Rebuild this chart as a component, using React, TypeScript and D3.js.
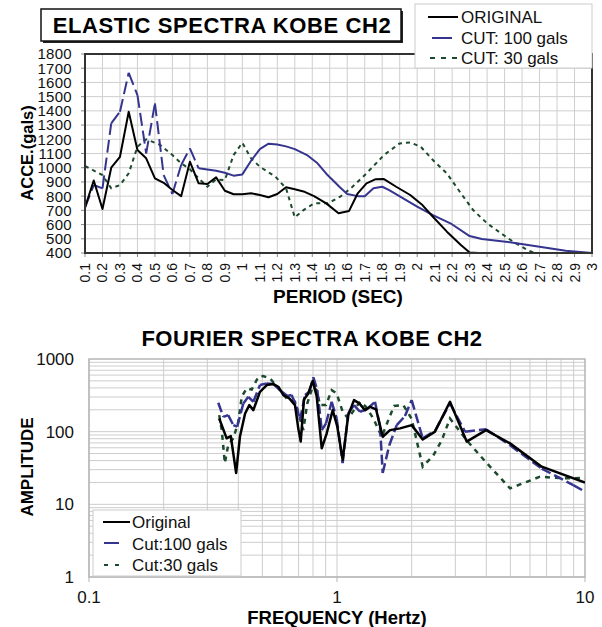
import React from "react";
import * as d3 from "d3";

// ---------- TOP CHART DATA (Elastic spectra) ----------
const periodOrig = [0.1,0.15,0.2,0.25,0.3,0.35,0.4,0.45,0.5,0.55,0.6,0.65,0.7,0.75,0.8,0.85,0.9,0.95,1.0,1.05,1.1,1.15,1.2,1.25,1.3,1.35,1.41,1.48,1.55,1.61,1.66,1.71,1.76,1.81,1.88,1.96,2.03,2.09,2.17,2.25,2.3,2.35];
const accOrig = [720,910,710,1000,1077,1394,1124,1066,925,894,843,800,1042,890,885,932,838,813,813,820,808,792,815,862,848,833,800,749,679,695,820,890,918,920,866,808,737,655,550,456,404,400];

const period100 = [0.1,0.15,0.2,0.25,0.3,0.35,0.4,0.45,0.5,0.55,0.6,0.65,0.7,0.75,0.8,0.85,0.9,0.95,1.0,1.05,1.1,1.15,1.2,1.25,1.3,1.37,1.43,1.48,1.555,1.6,1.66,1.7,1.75,1.8,1.84,1.92,2.0,2.09,2.19,2.3,2.37,2.54,2.7,2.85,3.0];
const acc100 = [720,878,855,1312,1394,1668,1511,1101,1453,948,815,1019,1136,996,988,979,965,944,953,1049,1131,1169,1164,1150,1131,1089,1031,958,866,815,800,800,855,866,843,784,726,667,609,519,498,474,444,416,400];
const dashedUntil100 = 0.75; // the CUT:100 curve is drawn with long dashes up to this period

const period30 = [0.1,0.2,0.25,0.3,0.35,0.4,0.45,0.53,0.6,0.65,0.7,0.75,0.8,0.85,0.9,0.95,1.0,1.05,1.1,1.19,1.25,1.3,1.35,1.41,1.49,1.56,1.63,1.71,1.81,1.9,1.96,2.02,2.09,2.17,2.25,2.32,2.4,2.48,2.55,2.63,2.67];
const acc30 = [1012,948,855,878,960,1148,1200,1160,1089,1031,989,925,866,918,913,1089,1176,1066,1007,936,855,650,702,749,750,796,866,960,1089,1171,1178,1148,1054,960,820,702,609,538,479,421,400];

const topYTicks = [400,500,600,700,800,900,1000,1100,1200,1300,1400,1500,1600,1700,1800];
const topXTicks = [0.1,0.2,0.3,0.4,0.5,0.6,0.7,0.8,0.9,1,1.1,1.2,1.3,1.4,1.5,1.6,1.7,1.8,1.9,2,2.1,2.2,2.3,2.4,2.5,2.6,2.7,2.8,2.9,3];
const topLegend = ["ORIGINAL", "CUT: 100 gals", "CUT: 30 gals"];

// ---------- BOTTOM CHART DATA (Fourier spectra) ----------
const freqOrig = [0.335,0.359,0.373,0.392,0.406,0.426,0.443,0.46,0.489,0.521,0.554,0.58,0.608,0.642,0.677,0.698,0.714,0.736,0.766,0.798,0.828,0.868,0.909,0.961,1.003,1.054,1.11,1.171,1.23,1.297,1.359,1.437,1.529,1.636,1.795,2.0,2.216,2.484,2.855,3.334,3.99,4.985,6.69,10];
const ampOrig = [152,81,87,27,85,178,232,198,354,438,452,415,319,287,232,111,73,278,336,501,309,59,95,198,117,41,169,272,245,198,220,203,85,105,111,123,78,100,258,73,105,69,33,20];

const freq100 = [0.332,0.348,0.364,0.382,0.396,0.419,0.439,0.46,0.489,0.521,0.554,0.589,0.631,0.656,0.688,0.709,0.743,0.773,0.803,0.833,0.868,0.903,0.952,0.997,1.054,1.11,1.171,1.238,1.318,1.423,1.491,1.529,1.625,1.741,1.88,2.0,2.216,2.484,2.855,3.282,3.99,4.985,6.69,8.97,10];
const amp100 = [250,160,169,123,117,245,302,258,438,462,452,373,309,319,220,144,319,354,558,373,105,130,258,152,37,178,232,188,203,258,117,27,65,123,164,272,81,103,245,100,108,65,31,18.4,14.9];

const freq30 = [0.335,0.343,0.353,0.364,0.382,0.4,0.413,0.432,0.453,0.482,0.504,0.537,0.58,0.627,0.677,0.709,0.731,0.759,0.798,0.828,0.854,0.903,0.952,0.997,1.054,1.11,1.171,1.238,1.309,1.401,1.515,1.61,1.698,1.851,2.0,2.216,2.445,2.644,2.855,3.334,4.015,4.985,6.58,8.18,10];
const amp30 = [169,105,37,65,81,137,302,395,380,569,581,541,395,287,258,152,105,245,415,373,232,232,373,336,188,152,198,258,220,152,85,144,226,232,150,33,47,76,152,76,37,16.6,24,22.8,23];

const botYTicks = [1, 10, 100, 1000];
const botXTicks = [0.1, 1, 10];
const botLegend = ["Original", "Cut:100 gals", "Cut:30 gals"];

const C_BLACK = "#000000";
const C_BLUE = "#35358f";
const C_GREEN = "#1c4a2c";
const FONT = "'Liberation Sans', Arial, Helvetica, sans-serif";

function zip(xs: number[], ys: number[]) {
  return xs.map((x, i) => [x, ys[i]] as [number, number]);
}

function Segments({ pts, sx, sy, color, width, dash }: any) {
  const segs = [];
  for (let i = 0; i < pts.length - 1; i++) {
    segs.push(
      <line key={i} x1={sx(pts[i][0])} y1={sy(pts[i][1])} x2={sx(pts[i + 1][0])} y2={sy(pts[i + 1][1])}
        stroke={color} strokeWidth={width} strokeDasharray={dash} strokeLinecap="butt" />
    );
  }
  return <g>{segs}</g>;
}

export default function App() {
  // ---- top chart scales ----
  const tL = 85, tR = 592, tT = 54, tB = 253;
  const tx = d3.scaleLinear().domain([0.1, 3.0]).range([tL, tR]);
  const ty = d3.scaleLinear().domain([400, 1800]).range([tB, tT]);
  const tLine = d3.line<[number, number]>().x(d => tx(d[0])).y(d => ty(d[1]));

  // ---- bottom chart scales ----
  const bL = 89, bR = 585, bT = 359, bB = 577;
  const bx = d3.scaleLog().domain([0.1, 10]).range([bL, bR]);
  const by = d3.scaleLog().domain([1, 1000]).range([bB, bT]);
  const bLine = d3.line<[number, number]>().x(d => bx(d[0])).y(d => by(d[1]));

  const minorX: number[] = [];
  [0.1, 1].forEach(dec => { for (let k = 1; k <= 9; k++) minorX.push(dec * k); });
  const minorY: number[] = [];
  [1, 10, 100].forEach(dec => { for (let k = 1; k <= 9; k++) minorY.push(dec * k); });

  const fmtTop = (v: number) => (Number.isInteger(v) ? String(v) : v.toFixed(1));

  const pts100 = zip(period100, acc100);
  const dashedPts100 = pts100.filter(p => p[0] <= dashedUntil100);
  const solidPts100 = pts100.filter(p => p[0] >= dashedUntil100);

  return (
    <svg width={602} height={627} style={{ position: "absolute", left: 0, top: 0, background: "#fff" }}
      fontFamily={FONT}>
      <defs>
        <clipPath id="clipTop"><rect x={tL} y={tT} width={tR - tL} height={tB - tT} /></clipPath>
        <clipPath id="clipBot"><rect x={bL} y={bT} width={bR - bL} height={bB - bT} /></clipPath>
      </defs>

      {/* ============ TOP CHART ============ */}
      {topXTicks.map((v, i) => (
        <line key={"tgx" + i} x1={tx(v)} x2={tx(v)} y1={tT} y2={tB} stroke="#cfcfcf" strokeWidth={1} />
      ))}
      {topYTicks.map((v, i) => (
        <line key={"tgy" + i} x1={tL} x2={tR} y1={ty(v)} y2={ty(v)} stroke="#cfcfcf" strokeWidth={1} />
      ))}
      {topYTicks.map((v, i) => (
        <line key={"tty" + i} x1={tL - 4} x2={tL} y1={ty(v)} y2={ty(v)} stroke="#888" strokeWidth={1} />
      ))}
      {topXTicks.map((v, i) => (
        <line key={"ttx" + i} x1={tx(v)} x2={tx(v)} y1={tB} y2={tB + 4} stroke="#888" strokeWidth={1} />
      ))}
      <g clipPath="url(#clipTop)">
        <path d={tLine(zip(period30, acc30)) || ""} fill="none" stroke={C_GREEN} strokeWidth={2} strokeDasharray="4,4" />
        <Segments pts={dashedPts100} sx={tx} sy={ty} color={C_BLUE} width={2} dash="13,5" />
        <path d={tLine(solidPts100) || ""} fill="none" stroke={C_BLUE} strokeWidth={2} strokeLinejoin="round" />
        <path d={tLine(zip(periodOrig, accOrig)) || ""} fill="none" stroke={C_BLACK} strokeWidth={2} strokeLinejoin="round" />
      </g>
      <rect x={tL} y={tT} width={tR - tL} height={tB - tT} fill="none" stroke="#333" strokeWidth={2} />
      {topYTicks.map((v, i) => (
        <text key={"tly" + i} x={72} y={ty(v)} dy="0.36em" textAnchor="end" fontSize={15} letterSpacing={0.3} fill="#111">{v}</text>
      ))}
      {topXTicks.map((v, i) => (
        <text key={"tlx" + i} transform={`translate(${tx(v) + 5},${263}) rotate(-90)`} textAnchor="end" fontSize={14} fill="#111">{fmtTop(v)}</text>
      ))}
      <text transform="translate(33,153) rotate(-90)" textAnchor="middle" fontSize={16.5} fontWeight="bold">ACCE.(gals)</text>
      <text x={338} y={303} textAnchor="middle" fontSize={19} fontWeight="bold">PERIOD (SEC)</text>
      {/* title box */}
      <rect x={43} y={11} width={360} height={32} fill="#222" />
      <rect x={41} y={9} width={360} height={32} fill="#fff" stroke="#111" strokeWidth={1.5} />
      <text x={222} y={33} textAnchor="middle" fontSize={22} letterSpacing={0.6} fontWeight="bold">ELASTIC SPECTRA KOBE CH2</text>
      {/* legend */}
      <rect x={415} y={4} width={177} height={64} fill="#fff" stroke="#ccc" strokeWidth={1} />
      <line x1={428} x2={458} y1={17} y2={17} stroke={C_BLACK} strokeWidth={2} />
      <line x1={432} x2={452} y1={38} y2={38} stroke={C_BLUE} strokeWidth={2} />
      <line x1={430} x2={458} y1={58} y2={58} stroke={C_GREEN} strokeWidth={2} strokeDasharray="5,6" />
      {topLegend.map((s, i) => (
        <text key={"tleg" + i} x={461} y={23 + i * 20.5} fontSize={17} fill="#111">{s}</text>
      ))}

      {/* ============ BOTTOM CHART ============ */}
      <text x={312} y={346} textAnchor="middle" fontSize={22} letterSpacing={0.5} fontWeight="bold">FOURIER SPECTRA KOBE CH2</text>
      {minorX.map((v, i) => (
        <line key={"bgx" + i} x1={bx(v)} x2={bx(v)} y1={bT} y2={bB} stroke="#cdcdcd" strokeWidth={1} />
      ))}
      {minorY.map((v, i) => (
        <line key={"bgy" + i} x1={bL} x2={bR} y1={by(v)} y2={by(v)} stroke="#cdcdcd" strokeWidth={1} />
      ))}
      <rect x={bL} y={bT} width={bR - bL} height={bB - bT} fill="none" stroke="#b5b5b5" strokeWidth={1.5} />
      {botXTicks.map((v, i) => (
        <line key={"btx" + i} x1={bx(v)} x2={bx(v)} y1={bB} y2={bB + 5} stroke="#b5b5b5" strokeWidth={1} />
      ))}
      <g clipPath="url(#clipBot)">
        <path d={bLine(zip(freq30, amp30)) || ""} fill="none" stroke={C_GREEN} strokeWidth={2.5} strokeDasharray="5,5" />
        <Segments pts={zip(freq100, amp100)} sx={bx} sy={by} color={C_BLUE} width={2.5} dash="10,4" />
        <path d={bLine(zip(freqOrig, ampOrig)) || ""} fill="none" stroke={C_BLACK} strokeWidth={2.5} strokeLinejoin="round" />
      </g>
      {botYTicks.map((v, i) => (
        <text key={"bly" + i} x={74} y={by(v)} dy="0.36em" textAnchor="end" fontSize={17} fill="#111">{v}</text>
      ))}
      {botXTicks.map((v, i) => (
        <text key={"blx" + i} x={bx(v)} y={603} textAnchor="middle" fontSize={17} fill="#111">{v}</text>
      ))}
      <text transform="translate(33,467) rotate(-90)" textAnchor="middle" fontSize={17} fontWeight="bold">AMPLITUDE</text>
      <text x={337} y={624} textAnchor="middle" fontSize={18.5} fontWeight="bold">FREQUENCY (Hertz)</text>
      <rect x={93} y={510} width={148} height={66} fill="#fff" stroke="#ccc" strokeWidth={1} />
      <line x1={103} x2={130} y1={522} y2={522} stroke={C_BLACK} strokeWidth={2} />
      <line x1={104} x2={119} y1={543} y2={543} stroke={C_BLUE} strokeWidth={2} />
      <line x1={104} x2={123} y1={565} y2={565} stroke={C_GREEN} strokeWidth={2} strokeDasharray="4,7" />
      {botLegend.map((s, i) => (
        <text key={"bleg" + i} x={132} y={528 + i * 21.5} fontSize={17} fill="#111">{s}</text>
      ))}
    </svg>
  );
}
